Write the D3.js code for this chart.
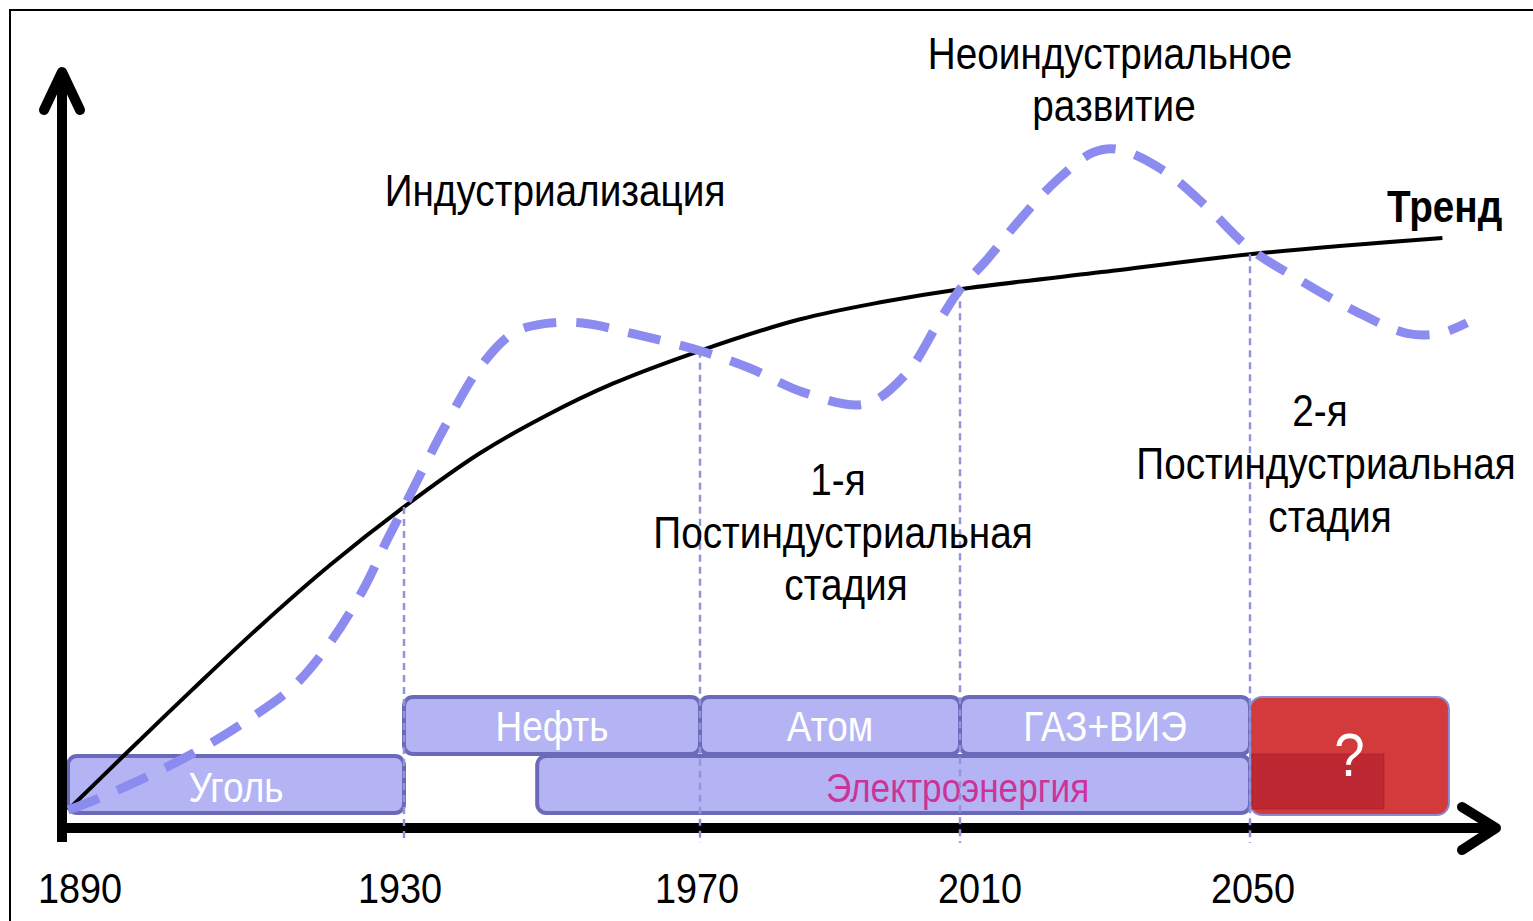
<!DOCTYPE html>
<html>
<head>
<meta charset="utf-8">
<script src="https://cdn.jsdelivr.net/npm/d3@7"></script>
<style>
	body { margin: 0; background: #fff; }
	svg { display: block; font-family: "Liberation Sans", Arial, sans-serif; }
</style>
</head>
<body>
<svg id="chart" width="1533" height="921"></svg>
<script>
// years marked on the time axis
const YEARS = [1890, 1930, 1970, 2010, 2050];
const YEAR_LABELS = ['1890', '1930', '1970', '2010', '2050'];

// long-term trend (level, arbitrary units)
const TREND_YEARS = [1890, 1896.5, 1904.9, 1912.9, 1921.2, 1930, 1940.3, 1949.3, 1958.2, 1970, 1985.4, 1998.2, 2010, 2031.7, 2050, 2076.6];
const TREND_VALUES = [0, 7.6, 17.3, 26.3, 35, 43.3, 51, 56.4, 60.9, 65.6, 70.1, 72.6, 74.4, 77.1, 79.4, 81.7];

// development waves around the trend
const WAVE_YEARS = [1890, 1892.3, 1898.6, 1904.9, 1910.8, 1916.8, 1921.2, 1925.1, 1928, 1930, 1935.8, 1940.3, 1944.7, 1948, 1953.8, 1961.5, 1970, 1977.7, 1985.8, 1995.4, 2001.8, 2006.9, 2010, 2013.7, 2017.9, 2023.4, 2028.3, 2031.7, 2038, 2044.1, 2050, 2056.9, 2064.3, 2071.7, 2076.3, 2080];
const WAVE_VALUES = [0, 1, 4.3, 8.1, 12.4, 17.6, 23.9, 31.4, 38.6, 43.3, 55.3, 63.3, 68.1, 69.3, 69.6, 67.9, 65.6, 63.1, 59.7, 58, 62.4, 70, 74.4, 78.6, 83.9, 90, 93.9, 94.4, 91.4, 86.1, 80.2, 75.7, 71.4, 68.1, 68.1, 69.6];

// energy eras
const ERA_NAMES = ['Уголь', 'Нефть', 'Атом', 'ГАЗ+ВИЭ', 'Электроэнергия'];
const ERA_START = [1890, 1930, 1970, 2010, 1948];
const ERA_END = [1930, 1970, 2010, 2050, 2050];
const ERA_ROW = ['low', 'high', 'high', 'high', 'low'];

// unknown future era
const FUTURE_LABEL = '?';
const FUTURE_START = 2050;
const FUTURE_END = 2077.5;
const FUTURE_INNER_END = 2068.5;

const svg = d3.select('#chart');
const SX = 0.88; // the source font is slightly condensed

// piecewise time axis, the decades are not evenly spaced in the original
const x = d3.scaleLinear()
	.domain([1890, 1930, 1970, 2010, 2050, 2080])
	.range([68, 404, 700, 960, 1250, 1467]);

const y = d3.scaleLinear()
	.domain([0, 100])
	.range([810, 110]);

const row = d3.scaleBand()
	.domain(['high', 'low'])
	.range([697, 815]);

function label(parent, text, px, py, opts) {
	opts = opts || {};
	return parent.append('text')
		.attr('transform', 'translate(' + px + ',' + py + ') scale(' + SX + ',1)')
		.attr('text-anchor', opts.anchor || 'middle')
		.attr('font-size', (opts.size || 44) + 'px')
		.attr('font-weight', opts.weight || 'normal')
		.attr('fill', opts.fill || '#000')
		.text(text);
}

// frame
svg.append('rect')
	.attr('x', 10)
	.attr('y', 10)
	.attr('width', 1560)
	.attr('height', 960)
	.attr('fill', 'none')
	.attr('stroke', '#000')
	.attr('stroke-width', 2);

// energy era boxes
const eras = ERA_NAMES.map((name, i) => ({
	name,
	start: ERA_START[i],
	end: ERA_END[i],
	row: ERA_ROW[i]
}));

// draw the long low one first, the others sit on it
const eraOrder = [4, 0, 1, 2, 3].map((i) => eras[i]);

const eraG = svg.append('g').attr('class', 'eras');
eraG.selectAll('rect')
	.data(eraOrder)
	.enter().append('rect')
		.attr('x', (d) => x(d.start))
		.attr('y', (d) => row(d.row))
		.attr('width', (d) => x(d.end) - x(d.start))
		.attr('height', (d) => row.bandwidth() - 2)
		.attr('rx', 9)
		.attr('fill', '#b4b4f4')
		.attr('stroke', '#6a6ab9')
		.attr('stroke-width', 4);

// future box
svg.append('rect')
	.attr('x', x(FUTURE_START))
	.attr('y', row('high'))
	.attr('width', x(FUTURE_END) - x(FUTURE_START))
	.attr('height', row.bandwidth() * 2)
	.attr('rx', 12)
	.attr('fill', '#d23a3b')
	.attr('stroke', '#8a8ad0')
	.attr('stroke-width', 2);

svg.append('rect')
	.attr('x', x(FUTURE_START) + 2)
	.attr('y', row('low') - 2)
	.attr('width', x(FUTURE_INNER_END) - x(FUTURE_START) - 2)
	.attr('height', row.bandwidth() - 4)
	.attr('fill', '#ad1a2c')
	.attr('fill-opacity', 0.55)
	.attr('stroke', '#9a1424')
	.attr('stroke-opacity', 0.5);

label(svg, FUTURE_LABEL, (x(FUTURE_START) + x(FUTURE_END)) / 2, row('low') + 20, {size: 62, fill: '#fff'});

// era labels
eras.forEach((d) => {
	const isElectric = d.name === 'Электроэнергия';
	const cx = (x(d.start) + x(d.end)) / 2 + (isElectric ? 64 : 0);
	const cy = row(d.row) + row.bandwidth() / 2 + (d.row === 'low' ? 16 : 14);
	label(eraG, d.name, cx, cy, {
		size: isElectric ? 40 : 42,
		fill: isElectric ? '#cc3399' : '#fff'
	});
});

// trend
const line = d3.line()
	.x((d) => x(d[0]))
	.y((d) => y(d[1]))
	.curve(d3.curveCatmullRom.alpha(0.5));

svg.append('path')
	.datum(d3.zip(TREND_YEARS, TREND_VALUES))
	.attr('d', line)
	.attr('fill', 'none')
	.attr('stroke', '#000')
	.attr('stroke-width', 4);

// waves
svg.append('path')
	.datum(d3.zip(WAVE_YEARS, WAVE_VALUES))
	.attr('d', line)
	.attr('fill', 'none')
	.attr('stroke', '#8c8cf0')
	.attr('stroke-width', 9)
	.attr('stroke-dasharray', '33,20');

// axes
const axisG = svg.append('g')
	.attr('fill', 'none')
	.attr('stroke', '#000')
	.attr('stroke-width', 10)
	.attr('stroke-linecap', 'round')
	.attr('stroke-linejoin', 'round');

axisG.append('path').attr('d', 'M62,842 V74').attr('stroke-linecap', 'butt');
axisG.append('path').attr('d', 'M44,110 L62,72 L80,110');
axisG.append('path').attr('d', 'M57,828 H1494').attr('stroke-linecap', 'butt');
axisG.append('path').attr('d', 'M1462,807 L1496,828 L1462,850');

// guide lines from the trend down to the axis
const trendAt = (yr) => TREND_VALUES[TREND_YEARS.indexOf(yr)];
svg.append('g')
	.selectAll('line')
	.data(YEARS.slice(1))
	.enter().append('line')
		.attr('x1', (d) => x(d))
		.attr('x2', (d) => x(d))
		.attr('y1', (d) => y(trendAt(d)))
		.attr('y2', 843)
		.attr('stroke', '#9393dc')
		.attr('stroke-width', 2.5)
		.attr('stroke-dasharray', '7,5');

// year labels
YEARS.forEach((yr, i) => {
	const shift = [12, -4, -3, 20, 3][i];
	label(svg, YEAR_LABELS[i], x(yr) + shift, 903, {size: 43});
});

// annotations
label(svg, 'Индустриализация', 555, 206);
label(svg, 'Неоиндустриальное', 1110, 69);
label(svg, 'развитие', 1114, 121);
label(svg, 'Тренд', 1387, 222, {anchor: 'start', weight: 'bold'});

label(svg, '1-я', 838, 495);
label(svg, 'Постиндустриальная', 843, 548);
label(svg, 'стадия', 846, 600);

label(svg, '2-я', 1320, 426);
label(svg, 'Постиндустриальная', 1326, 479);
label(svg, 'стадия', 1330, 532);
</script>
</body>
</html>
